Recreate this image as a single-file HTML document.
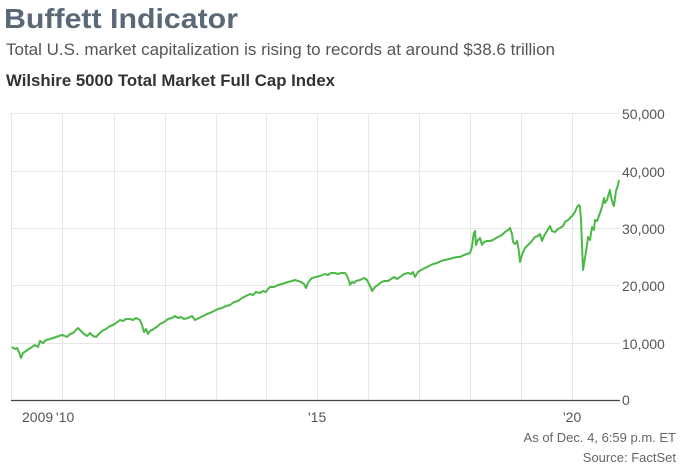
<!DOCTYPE html>
<html><head><meta charset="utf-8"><style>
html,body{margin:0;padding:0;background:#fff;}
svg{display:block;font-family:"Liberation Sans",sans-serif;}
</style></head><body>
<svg width="690" height="472" viewBox="0 0 690 472">
<text x="4" y="28" font-size="28" font-weight="bold" fill="#5b6877" textLength="234" lengthAdjust="spacingAndGlyphs">Buffett Indicator</text>
<text x="6" y="55" font-size="17" fill="#555" textLength="549" lengthAdjust="spacingAndGlyphs">Total U.S. market capitalization is rising to records at around $38.6 trillion</text>
<text x="6" y="86" font-size="17" font-weight="bold" fill="#333" textLength="329" lengthAdjust="spacingAndGlyphs">Wilshire 5000 Total Market Full Cap Index</text>
<g stroke="#e6e6e6" stroke-width="1">
<line x1="12" y1="113.5" x2="620" y2="113.5"/>
<line x1="12" y1="171.5" x2="620" y2="171.5"/>
<line x1="12" y1="228.5" x2="620" y2="228.5"/>
<line x1="12" y1="285.5" x2="620" y2="285.5"/>
<line x1="12" y1="343.5" x2="620" y2="343.5"/>
<line x1="11.5" y1="113" x2="11.5" y2="400"/>
<line x1="62.5" y1="113" x2="62.5" y2="400"/>
<line x1="114.5" y1="113" x2="114.5" y2="400"/>
<line x1="165.5" y1="113" x2="165.5" y2="400"/>
<line x1="216.5" y1="113" x2="216.5" y2="400"/>
<line x1="266.5" y1="113" x2="266.5" y2="400"/>
<line x1="317.5" y1="113" x2="317.5" y2="400"/>
<line x1="368.5" y1="113" x2="368.5" y2="400"/>
<line x1="419.5" y1="113" x2="419.5" y2="400"/>
<line x1="470.5" y1="113" x2="470.5" y2="400"/>
<line x1="521.5" y1="113" x2="521.5" y2="400"/>
<line x1="572.5" y1="113" x2="572.5" y2="400"/>
</g>
<line x1="11" y1="400.5" x2="620" y2="400.5" stroke="#444" stroke-width="1.2"/>
<polyline fill="none" stroke="#4cb847" stroke-width="2" stroke-linejoin="round" points="12,347 15,349 17,348 19,352 21,358 23,353 26,351 29,349 32,347 35,345 38,347 40,341 43,343 46,340 50,339 53,338 56,337 59,336 62,335 65,336 67,337 70,334 73,333 76,330 78,328 81,331 84,334 87,336 90,333 93,336 96,337 99,334 102,331 106,329 110,326 113,325 116,323 120,320 123,321 126,319 130,319 133,320 136,318 140,320 142,325 144,332 146,329 148,334 150,331 152,330 155,328 158,326 160,324 164,322 168,319 172,318 175,316 178,318 181,317 184,319 188,318 192,316 195,320 199,318 203,316 207,314 210,313 214,311 218,309 222,308 226,306 230,305 234,302 238,301 242,298 246,296 250,294 253,295 256,292 260,293 263,291 266,292 268,289 270,287 274,287 278,285 282,284 285,283 288,282 292,281 295,280 298,281 301,282 304,284 306,288 308,283 310,280 312,278 316,277 320,276 325,274 328,275 331,273 335,273 338,274 341,273 345,273 347,276 349,281 350,285 352,282 354,283 356,281 360,280 364,278 367,280 369,284 371,288 372,291 375,287 378,285 380,283 384,281 388,281 391,279 394,277 397,279 400,277 404,274 408,273 411,274 413,272 415,277 418,272 421,270 425,268 429,266 433,264 437,263 441,261 445,260 449,259 453,258 457,257 460,257 464,255 467,254 470,253 472,247 473,238 474,233 475,231 476,245 478,240 480,238 482,245 484,242 487,241 490,241 493,240 496,238 500,236 503,234 505,232 508,230 510,228 512,234 513,242 515,244 517,241 518,246 519,252 520,262 522,255 525,248 528,245 531,242 535,237 538,236 540,234 542,241 544,236 547,231 550,226 552,231 555,232 558,229 560,228 563,226 565,222 568,220 572,216 575,212 577,207 579,205 580,207 581,220 582,245 583,270 585,258 587,245 588,237 590,240 592,227 594,230 595,220 597,221 600,213 602,207 604,198 605,203 607,200 609,193 610,190 611,197 613,204 614,206 615,198 616,191 617,188 618,185 619,180"/>
<g font-size="14" fill="#555">
<text x="622" y="119">50,000</text>
<text x="622" y="177">40,000</text>
<text x="622" y="234">30,000</text>
<text x="622" y="291">20,000</text>
<text x="622" y="349">10,000</text>
<text x="622" y="405">0</text>
<text x="22" y="422">2009</text>
<text x="56" y="422">'10</text>
<text x="308" y="422">'15</text>
<text x="563" y="422">'20</text>
</g>
<g font-size="13" fill="#666" text-anchor="end">
<text x="676" y="442">As of Dec. 4, 6:59 p.m. ET</text>
<text x="676" y="462">Source: FactSet</text>
</g>
</svg>
</body></html>
